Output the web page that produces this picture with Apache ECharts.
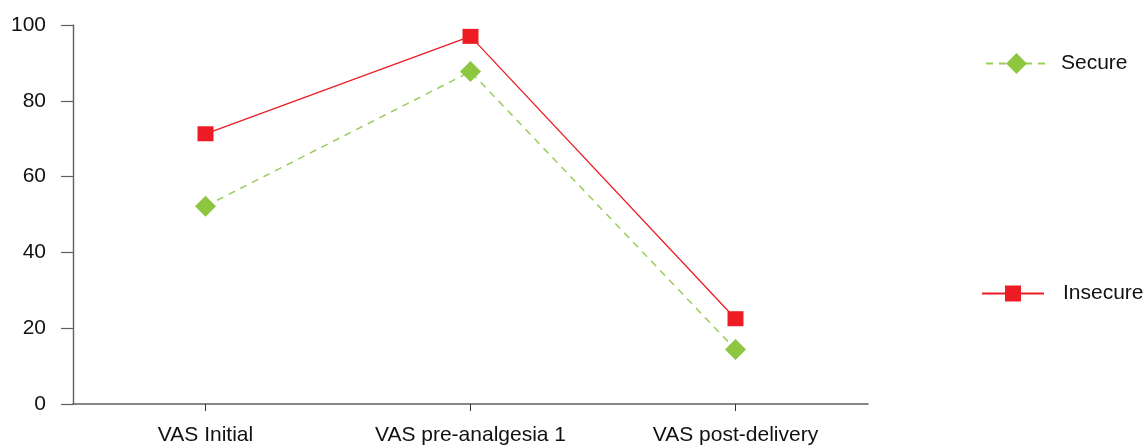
<!DOCTYPE html>
<html>
<head>
<meta charset="utf-8">
<script src="https://cdn.jsdelivr.net/npm/echarts@6/dist/echarts.min.js"></script>
<style>
html,body{margin:0;padding:0;background:#fff;}
#c{width:1145px;height:446px;}
</style>
</head>
<body>
<div id="c"></div>
<script>
var categories = ['VAS Initial', 'VAS pre-analgesia 1', 'VAS post-delivery'];
var secureValues = [52.2, 87.7, 14.4];
var insecureValues = [71.3, 97.0, 22.5];
var yTicks = [0, 20, 40, 60, 80, 100];

var FONT = '"Liberation Sans", Arial, sans-serif';
var GREEN = '#8DC63F';
var RED = '#ED1C24';
var AXIS = '#5f5f5f';

var chart = echarts.init(document.getElementById('c'), null, {renderer: 'canvas'});
chart.setOption({
  animation: false,
  backgroundColor: '#fff',
  grid: {left: 73, right: 277, top: 25, bottom: 40, containLabel: false},
  xAxis: {
    type: 'category',
    data: categories,
    boundaryGap: true,
    axisLine: {show: true, lineStyle: {color: AXIS, width: 1.6}},
    axisTick: {show: true, alignWithLabel: true, length: 7, lineStyle: {color: '#333', width: 1}},
    axisLabel: {color: '#111', fontSize: 21, fontFamily: FONT, margin: 21, interval: 0},
    splitLine: {show: false}
  },
  yAxis: {
    type: 'value',
    min: yTicks[0],
    max: yTicks[yTicks.length - 1],
    interval: yTicks[1] - yTicks[0],
    axisLine: {show: true, lineStyle: {color: AXIS, width: 1.4}},
    axisTick: {show: true, length: 12, lineStyle: {color: AXIS, width: 1.2}},
    axisLabel: {color: '#111', fontSize: 21, fontFamily: FONT, margin: 27},
    splitLine: {show: false}
  },
  legend: [
    {
      data: ['Secure'],
      left: 980, top: 48,
      orient: 'vertical',
      itemWidth: 61, itemHeight: 26,
      textStyle: {color: '#111', fontSize: 21, fontFamily: FONT, padding: [0, 0, 0, 9]}
    },
    {
      data: ['Insecure'],
      left: 976, top: 278,
      orient: 'vertical',
      itemWidth: 62, itemHeight: 20,
      textStyle: {color: '#111', fontSize: 21, fontFamily: FONT, padding: [0, 0, 0, 14]}
    }
  ],
  series: [
    {
      name: 'Secure',
      type: 'line',
      data: secureValues,
      symbol: 'diamond',
      symbolSize: [21, 21],
      itemStyle: {color: GREEN},
      lineStyle: {color: '#9ACD5A', width: 1.5, type: [7, 6]}
    },
    {
      name: 'Insecure',
      type: 'line',
      data: insecureValues,
      symbol: 'rect',
      symbolSize: [16, 15],
      itemStyle: {color: RED},
      lineStyle: {color: RED, width: 1.3}
    }
  ]
});
</script>
</body>
</html>
